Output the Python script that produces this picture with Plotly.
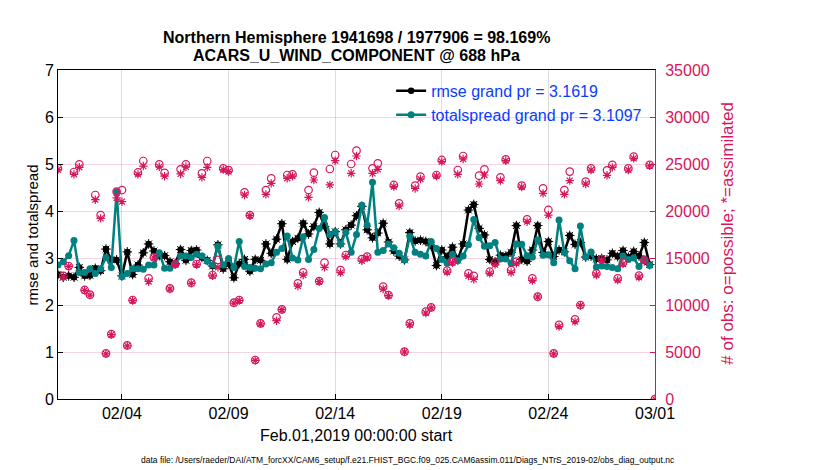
import pandas as pd
import plotly.graph_objects as go

# ----------------------------
# data (6-hourly, Feb 1 00Z .. Mar 1 00Z)
# ----------------------------
times = pd.date_range('2019-02-01 00:00', '2019-03-01 00:00', freq='6h')

rmse = [2.65, 2.59, 2.62, 2.59, 2.80, 2.62, 2.63, 2.78, 2.73, 3.19, 2.96, 2.96, 2.62, 3.13, 2.65, 2.85,
        3.11, 3.30, 3.15, 3.05, 3.05, 2.92, 2.88, 3.18, 2.95, 3.16, 3.17, 3.01, 2.95, 2.83, 3.28, 2.77,
        2.88, 2.58, 2.88, 2.97, 2.72, 2.97, 2.95, 3.30, 3.10, 3.40, 3.73, 2.97, 3.35, 3.42, 3.74, 3.51,
        3.67, 3.97, 3.67, 3.30, 3.56, 3.30, 3.60, 3.70, 3.90, 4.10, 3.60, 3.43, 3.53, 3.74, 3.34, 3.15,
        3.04, 2.96, 3.54, 3.36, 3.38, 3.35, 3.26, 2.84, 3.17, 3.03, 3.23, 2.96, 3.30, 4.02, 4.14, 3.63,
        3.49, 2.97, 2.92, 3.06, 3.04, 3.12, 3.69, 2.97, 2.93, 3.17, 3.69, 3.12, 3.35, 3.03, 3.17, 3.13,
        3.48, 3.29, 3.33, 3.02, 3.04, 2.98, 2.99, 2.96, 3.10, 3.03, 3.16, 3.02, 3.14, 3.04, 3.33, 2.86,
        None]

spread = [2.85, 2.92, 3.05, 3.37, 2.69, 2.69, 2.77, 2.67, 2.77, 3.01, 2.80, 4.41, 2.60, 2.67, 2.77, 2.77,
          2.76, 2.85, 2.85, 3.11, 2.78, 2.78, 2.87, 3.04, 3.04, 3.01, 3.08, 3.04, 2.93, 2.85, 3.25, 2.85,
          2.99, 2.80, 3.35, 2.82, 2.80, 2.78, 2.77, 2.87, 2.90, 3.12, 3.20, 3.47, 3.00, 2.96, 3.45, 2.97,
          3.18, 3.63, 3.86, 3.50, 3.56, 3.29, 3.55, 3.12, 3.50, 4.12, 3.70, 4.61, 3.12, 3.16, 3.30, 3.22,
          3.10, 2.96, 3.46, 3.12, 3.08, 3.04, 3.35, 3.20, 2.97, 2.89, 3.08, 2.94, 3.04, 3.28, 3.82, 3.43,
          3.25, 3.26, 3.33, 2.98, 2.98, 2.89, 3.30, 3.29, 3.05, 3.02, 3.39, 3.06, 3.07, 2.90, 3.81, 3.12,
          2.94, 2.77, 3.68, 3.02, 3.13, 2.81, 2.83, 2.82, 2.80, 2.77, 3.04, 2.97, 3.00, 2.82, 2.98, 2.84,
          None]

n_possible = [24550, 13100, 14150, 24150, 24960, 11600, 11100, 21700, 19570, 4860, 6900, 22060, 22230,
              5700, 10530, 24100, 25320, 12840, 15070, 24960, 24050, 11770, 14360, 24430, 24960, 12380,
              14360, 24000, 25320, 13190, 14790, 24540, 24350, 10250, 10530, 21980, 19570, 4150, 8050,
              22230, 23470, 8690, 9540, 23830, 23900, 12300, 13470, 22230, 24080, 12550, 14500, 24470,
              25960, 13720, 15320, 25000, 26420, 14890, 15140, 24540, 25070, 11950, 11060, 22770, 20820,
              5035, 8050, 22700, 23650, 9290, 9750, 23830, 25430, 13650, 14610, 24360, 25850, 13370,
              13090, 23760, 24430, 13540, 14500, 23580, 25500, 13720, 14610, 22700, 19110, 12840, 10890,
              22410, 20110, 4860, 7880, 22230, 24190, 8480, 10000, 23120, 24540, 13370, 14890, 24330,
              24900, 12840, 14500, 24540, 25780, 13120, 14790, 24900, 0]

n_assim = [24400, 13000, 14100, 23900, 24650, 11550, 11050, 21200, 19220, 4800, 6850, 21400, 21000,
           5650, 10480, 23900, 24780, 12500, 15000, 24700, 23700, 11700, 14300, 23940, 24700, 12300,
           14300, 23580, 24640, 13100, 14000, 24400, 24200, 10200, 10480, 21700, 19500, 4100, 8000,
           21770, 22940, 8330, 9500, 23480, 23700, 12020, 13190, 21450, 23300, 12500, 14000, 22770,
           25350, 13450, 15150, 24010, 25850, 14700, 15000, 24000, 24430, 11700, 11000, 22600, 20530,
           5000, 7900, 22400, 23400, 9150, 9700, 23700, 25250, 13500, 14500, 23900, 25530, 13090,
           12730, 22870, 23830, 13370, 14290, 23230, 25350, 13450, 14430, 22550, 18860, 12590, 10850,
           21880, 19570, 4800, 7700, 21770, 23230, 8230, 9950, 22870, 24360, 13190, 14790, 23800,
           24640, 12650, 14360, 24360, 25600, 12950, 14610, 24800, 0]

tick_dates = ['2019-02-04', '2019-02-09', '2019-02-14', '2019-02-19', '2019-02-24', '2019-03-01']
tick_labels = ['02/04', '02/09', '02/14', '02/19', '02/24', '03/01']

title1 = 'Northern Hemisphere 1941698 / 1977906 = 98.169%'
title2 = 'ACARS_U_WIND_COMPONENT @ 688 hPa'
footer = ('data file: /Users/raeder/DAI/ATM_forcXX/CAM6_setup/f.e21.FHIST_BGC.f09_025.'
          'CAM6assim.011/Diags_NTrS_2019-02/obs_diag_output.nc')

# ----------------------------
# styles
# ----------------------------
RED = 'rgb(214,22,92)'
TEAL = 'rgb(0,128,128)'
BLUE = 'rgb(10,60,255)'
FONT = 'Liberation Sans, Arial, Helvetica, sans-serif'

fig = go.Figure()

# observation counts on the right axis
fig.add_trace(go.Scatter(
    x=times, y=n_possible, yaxis='y2', mode='markers', showlegend=False,
    marker=dict(symbol='circle-open', size=7.5, color=RED, line=dict(width=1.2, color=RED)),
))
fig.add_trace(go.Scatter(
    x=times, y=n_assim, yaxis='y2', mode='markers', showlegend=False,
    marker=dict(symbol='asterisk-open', size=7, color=RED, line=dict(width=1.2, color=RED)),
))

# rmse (black) with asterisk-like blobs
fig.add_trace(go.Scatter(
    x=times, y=rmse, mode='lines+markers', name='rmse grand pr = 3.1619',
    line=dict(color='black', width=2.5),
    marker=dict(symbol='circle', size=6.5, color='black'),
))
fig.add_trace(go.Scatter(
    x=times, y=rmse, mode='markers', showlegend=False,
    marker=dict(symbol='asterisk-open', size=8, color='black', line=dict(width=1, color='black')),
))

# total spread (teal)
fig.add_trace(go.Scatter(
    x=times, y=spread, mode='lines+markers', name='totalspread grand pr = 3.1097',
    line=dict(color=TEAL, width=2.5),
    marker=dict(symbol='circle', size=7, color=TEAL),
))

# the page body adds an 8px offset, so margins are shifted to compensate
fig.update_layout(
    width=830, height=470,
    margin=dict(l=50, r=183, t=62, b=79),
    plot_bgcolor='white', paper_bgcolor='white',
    font=dict(family=FONT, size=14, color='black'),
    xaxis=dict(
        type='date', range=['2019-02-01', '2019-03-01'],
        tickvals=tick_dates, ticktext=tick_labels,
        ticks='inside', ticklen=5, tickcolor='black',
        showline=True, linecolor='black', linewidth=1, mirror=True,
        showgrid=True, gridcolor='rgb(220,220,220)', gridwidth=1,
        zeroline=False, tickfont=dict(size=16),
    ),
    yaxis=dict(
        range=[0, 7], dtick=1, ticks='inside', ticklen=5, tickcolor='black',
        showline=True, linecolor='black', linewidth=1,
        showgrid=False, zeroline=False, tickfont=dict(size=16),
    ),
    yaxis2=dict(
        overlaying='y', side='right', range=[0, 35000], dtick=5000, tickformat='d',
        ticks='inside', ticklen=5, tickcolor=RED, ticklabelstandoff=6,
        showline=True, linecolor=RED, linewidth=1,
        showgrid=True, gridcolor='rgba(214,22,92,0.18)', gridwidth=1,
        zeroline=False, tickfont=dict(size=16, color=RED),
    ),
    legend=dict(
        x=0.558, y=0.988, xanchor='left', yanchor='top',
        bgcolor='rgba(255,255,255,0)', borderwidth=0,
        font=dict(size=16, color=BLUE), tracegroupgap=0,
    ),
    annotations=[
        dict(text='<b>' + title1 + '</b>', xref='paper', yref='paper', x=0.5, y=1.10,
             xanchor='center', yanchor='middle', showarrow=False, font=dict(size=16)),
        dict(text='<b>' + title2 + '</b>', xref='paper', yref='paper', x=0.5, y=1.043,
             xanchor='center', yanchor='middle', showarrow=False, font=dict(size=16)),
        dict(text='Feb.01,2019 00:00:00 start', xref='paper', yref='paper', x=0.5, y=-0.112,
             xanchor='center', yanchor='middle', showarrow=False, font=dict(size=16)),
        dict(text='rmse and totalspread', xref='paper', yref='paper', x=-0.042, y=0.5,
             xanchor='center', yanchor='middle', textangle=-90, showarrow=False,
             font=dict(size=15)),
        dict(text='# of obs: o=possible; *=assimilated', xref='paper', yref='paper', x=1.122, y=0.505,
             xanchor='center', yanchor='middle', textangle=-90, showarrow=False,
             font=dict(size=17, color=RED)),
        dict(text=footer, xref='paper', yref='paper', x=0.586, y=-0.185,
             xanchor='center', yanchor='middle', showarrow=False, font=dict(size=8.5)),
    ],
)

fig.write_html('out.html')
